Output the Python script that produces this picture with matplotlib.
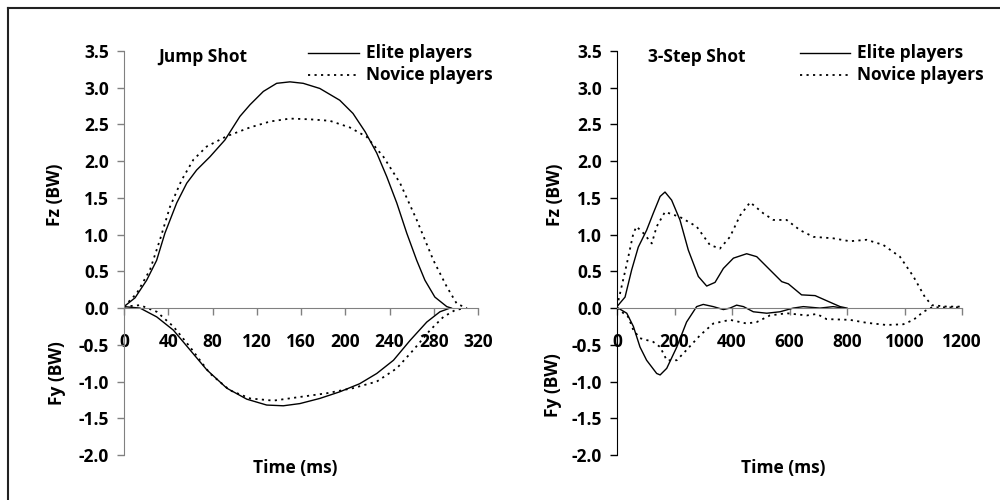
import matplotlib
matplotlib.use('Agg')
import matplotlib.pyplot as plt
from matplotlib.lines import Line2D
from matplotlib.ticker import FuncFormatter

plt.rcParams['font.family'] = ['Open Sans', 'DejaVu Sans']
plt.rcParams['font.weight'] = 'bold'
plt.rcParams['axes.unicode_minus'] = False

# ---------------- data ----------------
# Jump shot
jump_fz_elite_t = [0, 10, 20.5, 29.5, 37, 47.6, 56.7, 65.7, 77.7, 91.3, 104.8, 114, 126, 138, 150,
                   162, 177, 195, 207, 218, 228.5, 237.5, 246.6, 255.6, 264.6, 272, 281, 291.8, 296]
jump_fz_elite = [0.02, 0.14, 0.38, 0.65, 1.02, 1.43, 1.70, 1.88, 2.06, 2.29, 2.61, 2.77, 2.95, 3.06, 3.08,
                 3.06, 2.99, 2.83, 2.65, 2.40, 2.11, 1.79, 1.43, 1.02, 0.65, 0.38, 0.15, 0.02, 0.0]
jump_fz_novice_t = [0, 11.5, 23.5, 32.5, 41.6, 52, 62.7, 74.8, 92.9, 114, 132, 150, 168, 186, 204,
                    219.5, 234.5, 249.6, 264.6, 279.7, 291.8, 300.8, 306.8, 310]
jump_fz_novice = [0.02, 0.20, 0.52, 0.93, 1.38, 1.74, 2.02, 2.20, 2.34, 2.46, 2.54, 2.58, 2.57, 2.55, 2.46,
                  2.33, 2.06, 1.70, 1.20, 0.65, 0.29, 0.06, 0.02, 0.0]
jump_fy_elite_t = [0, 14.5, 29.6, 44.6, 59.7, 74.8, 92.9, 111, 129, 144, 159, 177, 195, 213, 228.5,
                   243.6, 258.6, 273.7, 285.6, 294.7]
jump_fy_elite = [0.02, 0.0, -0.12, -0.30, -0.57, -0.84, -1.09, -1.24, -1.32, -1.33, -1.30, -1.23, -1.14,
                 -1.03, -0.89, -0.71, -0.44, -0.19, -0.05, 0.0]
jump_fy_novice_t = [0, 14.5, 29.6, 44.6, 59.7, 77.7, 95.8, 114, 135, 159, 183, 207, 228.5, 246.6,
                    261.6, 276.7, 288.7, 299, 308]
jump_fy_novice = [0.02, 0.04, -0.05, -0.25, -0.53, -0.89, -1.12, -1.23, -1.26, -1.21, -1.16, -1.09,
                  -1.00, -0.82, -0.57, -0.30, -0.12, -0.03, 0.0]

# 3-step shot
step_fz_elite_t = [0, 28, 51, 74, 103, 126, 150, 167, 190, 219, 248, 283, 312, 341, 370, 405, 451, 486,
                   532, 573, 596, 642, 689, 741, 776, 800]
step_fz_elite = [0.02, 0.15, 0.52, 0.83, 1.06, 1.29, 1.52, 1.58, 1.47, 1.20, 0.79, 0.43, 0.30, 0.35,
                 0.54, 0.68, 0.74, 0.70, 0.52, 0.36, 0.33, 0.18, 0.17, 0.08, 0.02, 0.0]
step_fz_novice_t = [0, 34, 57, 68, 92, 121, 138, 167, 219, 277, 323, 358, 393, 428, 463, 509, 544, 590,
                    637, 683, 752, 810, 868, 926, 984, 1031, 1071, 1095, 1147, 1199]
step_fz_novice = [0.02, 0.60, 1.02, 1.11, 1.02, 0.88, 1.11, 1.31, 1.24, 1.11, 0.86, 0.81, 0.97, 1.26,
                  1.44, 1.29, 1.20, 1.20, 1.06, 0.97, 0.95, 0.91, 0.93, 0.86, 0.70, 0.43, 0.15, 0.04,
                  0.02, 0.02]
step_fy_elite_t = [0, 34, 57, 80, 103, 138, 150, 173, 208, 242, 277, 300, 335, 370, 393, 416, 440, 474,
                   521, 567, 613, 648, 706, 752, 787]
step_fy_elite = [0.01, -0.07, -0.25, -0.53, -0.71, -0.89, -0.91, -0.82, -0.53, -0.19, 0.02, 0.05, 0.02,
                 -0.02, 0.0, 0.04, 0.02, -0.05, -0.07, -0.05, 0.0, 0.02, 0.0, 0.02, 0.0]
step_fy_novice_t = [0, 39, 57, 80, 126, 150, 173, 208, 242, 289, 335, 393, 451, 486, 532, 590, 660, 695,
                    729, 810, 868, 937, 996, 1031, 1066, 1095, 1199]
step_fy_novice = [0.0, -0.12, -0.30, -0.41, -0.46, -0.53, -0.71, -0.71, -0.57, -0.37, -0.21, -0.16,
                  -0.21, -0.19, -0.10, -0.07, -0.10, -0.08, -0.15, -0.16, -0.20, -0.23, -0.22, -0.16,
                  -0.05, 0.01, 0.01]

jump_xticks = [0, 40, 80, 120, 160, 200, 240, 280, 320]
step_xticks = [0, 200, 400, 600, 800, 1000, 1200]
yticks = [-2.0, -1.5, -1.0, -0.5, 0.0, 0.5, 1.0, 1.5, 2.0, 2.5, 3.0, 3.5]

# ---------------- figure ----------------
fig = plt.figure(figsize=(10, 5), dpi=100)
fig.patch.set_facecolor('white')

# frame (only top and left edges visible in the crop)
fig.add_artist(Line2D([0.008, 1.0], [0.984, 0.984], color='#222222', lw=1.5))
fig.add_artist(Line2D([0.008, 0.008], [0.0, 0.984], color='#222222', lw=1.5))

DOT = (0, (1.2, 2.4))
FS = 12.5


def setup(ax, xmax, xticks, title, title_x, leg_x0, yspine_color):
    ax.set_xlim(0, xmax)
    ax.set_ylim(-2.0, 3.5)
    ax.spines['top'].set_visible(False)
    ax.spines['right'].set_visible(False)
    ax.spines['bottom'].set_position(('data', 0))
    ax.spines['bottom'].set_color('#808080')
    ax.spines['left'].set_color(yspine_color)
    ax.set_xticks(xticks)
    ax.set_yticks(yticks)
    ax.yaxis.set_major_formatter(FuncFormatter(lambda v, p: f"{v:.1f}"))
    ax.tick_params(axis='x', direction='out', length=5, width=1, color='#808080',
                   pad=13, labelsize=FS)
    ax.tick_params(axis='y', direction='out', length=5, width=1, color=yspine_color,
                   pad=6, labelsize=FS)
    for lab in ax.get_xticklabels() + ax.get_yticklabels():
        lab.set_fontweight('bold')
    ax.patch.set_alpha(0)
    ax.text(title_x, 0.985, title, transform=ax.transAxes, fontsize=FS, fontweight='bold',
            ha='left', va='center')
    # legend drawn by hand to match layout
    ax.plot([leg_x0, leg_x0 + 0.145], [0.995, 0.995], transform=ax.transAxes, color='black',
            lw=1, clip_on=False)
    ax.plot([leg_x0, leg_x0 + 0.145], [0.94, 0.94], transform=ax.transAxes, color='black',
            lw=1.3, ls=DOT, clip_on=False)
    ax.text(leg_x0 + 0.165, 0.995, 'Elite players', transform=ax.transAxes, fontsize=FS,
            fontweight='bold', ha='left', va='center')
    ax.text(leg_x0 + 0.165, 0.94, 'Novice players', transform=ax.transAxes, fontsize=FS,
            fontweight='bold', ha='left', va='center')


ax1 = fig.add_axes([0.124, 0.09, 0.354, 0.808])
ax2 = fig.add_axes([0.617, 0.09, 0.345, 0.808])

ax1.plot(jump_fz_elite_t, jump_fz_elite, color='black', lw=1)
ax1.plot(jump_fz_novice_t, jump_fz_novice, color='black', lw=1.3, ls=DOT)
ax1.plot(jump_fy_elite_t, jump_fy_elite, color='black', lw=1)
ax1.plot(jump_fy_novice_t, jump_fy_novice, color='black', lw=1.3, ls=DOT)
setup(ax1, 320, jump_xticks, 'Jump Shot', 0.096, 0.52, '#808080')

ax2.plot(step_fz_elite_t, step_fz_elite, color='black', lw=1)
ax2.plot(step_fz_novice_t, step_fz_novice, color='black', lw=1.3, ls=DOT)
ax2.plot(step_fy_elite_t, step_fy_elite, color='black', lw=1)
ax2.plot(step_fy_novice_t, step_fy_novice, color='black', lw=1.3, ls=DOT)
setup(ax2, 1200, step_xticks, '3-Step Shot', 0.09, 0.53, 'black')

# axis titles
fig.text(0.055, 1 - 195 / 500, 'Fz (BW)', rotation=90, fontsize=FS, fontweight='bold',
         ha='center', va='center')
fig.text(0.057, 1 - 373 / 500, 'Fy (BW)', rotation=90, fontsize=FS, fontweight='bold',
         ha='center', va='center')
fig.text(0.555, 1 - 195 / 500, 'Fz (BW)', rotation=90, fontsize=FS, fontweight='bold',
         ha='center', va='center')
fig.text(0.553, 1 - 385 / 500, 'Fy (BW)', rotation=90, fontsize=FS, fontweight='bold',
         ha='center', va='center')
fig.text(0.295, 1 - 468 / 500, 'Time (ms)', fontsize=FS, fontweight='bold',
         ha='center', va='center')
fig.text(0.783, 1 - 468 / 500, 'Time (ms)', fontsize=FS, fontweight='bold',
         ha='center', va='center')

fig.savefig('out.png', dpi=100, facecolor='white')
